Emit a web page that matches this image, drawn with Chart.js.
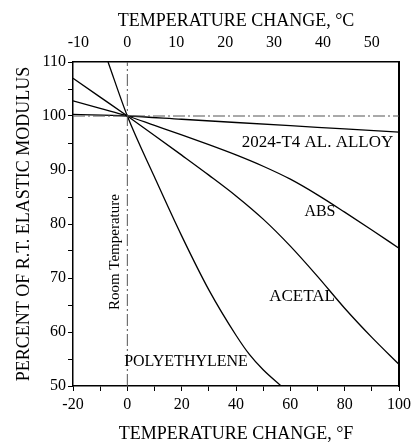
<!DOCTYPE html>
<html>
<head>
<meta charset="utf-8">
<script src="https://cdn.jsdelivr.net/npm/chart.js@4/dist/chart.umd.min.js"></script>
<style>
  html, body { margin: 0; padding: 0; background: #fff; }
  #wrap { width: 415px; height: 443px; }
</style>
</head>
<body>
<div id="wrap"><canvas id="c" width="415" height="443"></canvas></div>
<script>
// ---- data ----
const alTempF   = [-20, 0, 20, 40, 60, 80, 100];
const alModulus = [100.3, 100, 99.4, 98.8, 98.2, 97.6, 97.0];

const absTempF   = [-20, -10, 0, 10, 20, 30, 40, 50, 60, 70, 80, 90, 100];
const absModulus = [102.8, 101.4, 100, 98.25, 96.5, 94.7, 92.8, 90.7, 88.3, 85.4, 82.2, 78.9, 75.5];

const acetalTempF   = [-20, -10, 0, 10, 20, 30, 40, 50, 60, 70, 80, 90, 100];
const acetalModulus = [107, 103.5, 100, 96.4, 92.75, 89.05, 85.2, 80.9, 75.9, 70.3, 64.4, 59.0, 54.0];

const polyTempF   = [-7.1, 0, 10, 20, 30, 40, 45, 50, 56.4, 58];
const polyModulus = [110, 100, 88.7, 77.8, 67.8, 59.4, 55.8, 53.0, 50.1, 49.4];

const roomTempLineF = [0, 0];
const roomTempLineY = [50, 110];
const refLineF = [-20, 100];
const refLineY = [100, 100];

const topTicksC = [-10, 0, 10, 20, 30, 40, 50];

const curveLabels = ['2024-T4 AL. ALLOY', 'ABS', 'ACETAL', 'POLYETHYLENE'];
const roomLabel = 'Room Temperature';
const xTitleF = 'TEMPERATURE CHANGE, °F';
const xTitleC = 'TEMPERATURE CHANGE, °C';
const yTitle = 'PERCENT OF R.T. ELASTIC MODULUS';

// ---- helpers ----
const pts = (xs, ys) => xs.map((x, i) => ({x: x, y: ys[i]}));
const FONT = '"Liberation Serif", "Times New Roman", serif';

const curveStyle = {
  borderColor: '#000', borderWidth: 1.3, pointRadius: 0, showLine: true,
  fill: false, cubicInterpolationMode: 'monotone'
};
const refStyle = {
  borderColor: '#555', borderWidth: 1, pointRadius: 0, showLine: true,
  fill: false, borderDash: [12, 3, 2, 3], tension: 0
};

// label anchors in data coordinates (°F, %)
const labelAnchors = [
  {text: curveLabels[0], x: 70.0, y: 95.1, size: 17},
  {text: curveLabels[1], x: 70.9, y: 82.3, size: 16},
  {text: curveLabels[2], x: 64.3, y: 66.5, size: 17},
  {text: curveLabels[3], x: 21.6, y: 54.5, size: 16},
];
const roomAnchor = {text: roomLabel, x: -4.6, y: 74.8, size: 15};

const textPlugin = {
  id: 'curveText',
  afterDatasetsDraw(chart) {
    const {ctx, scales} = chart;
    const xs = scales.x, ys = scales.y;
    ctx.save();
    ctx.fillStyle = '#000';
    ctx.textAlign = 'center';
    ctx.textBaseline = 'middle';
    labelAnchors.forEach(l => {
      ctx.font = l.size + 'px ' + FONT;
      ctx.fillText(l.text, xs.getPixelForValue(l.x), ys.getPixelForValue(l.y));
    });
    ctx.translate(xs.getPixelForValue(roomAnchor.x), ys.getPixelForValue(roomAnchor.y));
    ctx.rotate(-Math.PI / 2);
    ctx.font = roomAnchor.size + 'px ' + FONT;
    ctx.fillText(roomAnchor.text, 0, 0);
    ctx.restore();
  }
};

const tickFont = {family: FONT, size: 16, lineHeight: 1.2};
const titleFont = {family: FONT, size: 18, lineHeight: 1.0};

new Chart(document.getElementById('c'), {
  type: 'scatter',
  data: {
    datasets: [
      Object.assign({label: 'ref100', data: pts(refLineF, refLineY)}, refStyle),
      Object.assign({label: 'room', data: pts(roomTempLineF, roomTempLineY)}, refStyle),
      Object.assign({label: curveLabels[0], data: pts(alTempF, alModulus)}, curveStyle),
      Object.assign({label: curveLabels[1], data: pts(absTempF, absModulus)}, curveStyle),
      Object.assign({label: curveLabels[2], data: pts(acetalTempF, acetalModulus)}, curveStyle),
      Object.assign({label: curveLabels[3], data: pts(polyTempF, polyModulus)}, curveStyle),
    ]
  },
  options: {
    responsive: false,
    animation: false,
    events: [],
    layout: {padding: 0},
    plugins: {legend: {display: false}, tooltip: {enabled: false}},
    scales: {
      x: {
        type: 'linear', position: 'bottom', min: -20, max: 100,
        afterFit: s => { s.height = 57; },
        border: {display: true, color: '#000', width: 1.5},
        grid: {display: true, drawOnChartArea: false, drawTicks: true, tickLength: 5, color: '#000', lineWidth: 1},
        ticks: {stepSize: 10, padding: 4, color: '#000', font: tickFont, maxRotation: 0, autoSkip: false,
                callback: v => (v % 20 === 0 ? String(v) : '')},
        title: {display: true, text: xTitleF, color: '#000', font: titleFont, padding: {top: 0, bottom: 0}}
      },
      x2: {
        type: 'linear', position: 'top', min: -20 * 5 / 9, max: 100 * 5 / 9,
        afterFit: s => { s.height = 62; },
        afterBuildTicks: s => { s.ticks = topTicksC.map(v => ({value: v})); },
        border: {display: true, color: '#000', width: 1.5},
        grid: {display: false},
        ticks: {padding: 2, color: '#000', font: tickFont, maxRotation: 0, autoSkip: false,
                callback: v => String(v)},
        title: {display: true, text: xTitleC, color: '#000', font: titleFont, padding: {top: 12, bottom: 0}}
      },
      y: {
        type: 'linear', position: 'left', min: 50, max: 110,
        afterFit: s => { s.width = 73; },
        border: {display: true, color: '#000', width: 1.5},
        grid: {display: true, drawOnChartArea: false, drawTicks: true, tickLength: 5, color: '#000', lineWidth: 1},
        ticks: {stepSize: 5, padding: 2, color: '#000', font: tickFont, autoSkip: false,
                callback: v => (v % 10 === 0 ? String(v) : '')},
        title: {display: true, text: yTitle, color: '#000', font: titleFont, padding: {top: 15, bottom: 0}}
      },
      y2: {
        type: 'linear', position: 'right', min: 50, max: 110,
        afterFit: s => { s.width = 14; },
        border: {display: true, color: '#000', width: 2},
        grid: {display: false},
        ticks: {display: false}
      }
    }
  },
  plugins: [textPlugin]
});
</script>
</body>
</html>
